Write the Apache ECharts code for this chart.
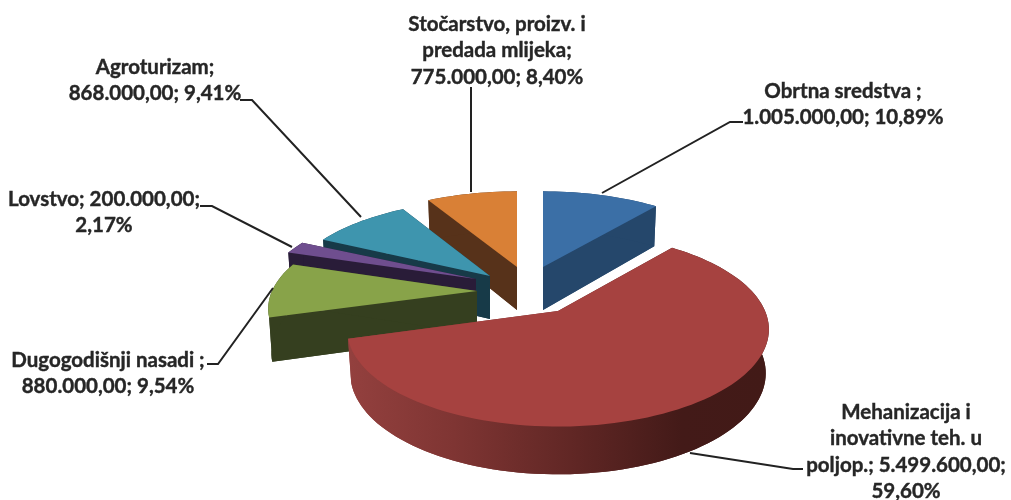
<!DOCTYPE html>
<html>
<head>
<meta charset="utf-8">
<title>Pie</title>
<style>
  html, body { margin: 0; padding: 0; background: #fff; }
  #chart { width: 1011px; height: 500px; }
</style>
<script src="https://cdn.jsdelivr.net/npm/echarts@6/dist/echarts.min.js"></script>
</head>
<body>
<div id="chart"></div>
<script>
// data
var names = ['Obrtna sredstva', 'Mehanizacija i\ninovativne teh. u\npoljop.', 'Dugogodišnji nasadi', 'Lovstvo', 'Agroturizam', 'Stočarstvo, proizv. i\npredada mlijeka'];
var values = [1005000, 5499600, 880000, 200000, 868000, 775000];
var percents = ['10,89%', '59,60%', '9,54%', '2,17%', '9,41%', '8,40%'];
var amounts = ['1.005.000,00', '5.499.600,00', '880.000,00', '200.000,00', '868.000,00', '775.000,00'];

// how each label is put together
var labelFormats = ['{n} ;\n{v}; {p}', '{n}; {v};\n{p}', '{n} ;\n{v}; {p}', '{n}; {v};\n{p}', '{n};\n{v}; {p}', '{n};\n{v}; {p}'];

// layout, per slice
var topColors = ['#3b6fa6', '#a64240', '#88a349', '#6f4e8f', '#3e95ae', '#d98036'];
var wallColors = ['#25476b', '#642826', '#353f1f', '#291c38', '#173a48', '#57321a'];
var apexes = [[543, 267], [558, 311], [477, 291], [476, 279], [490, 276], [517, 267]];
var scalesX = [1, 1.01, 1, 1.02, 0.98, 1];
var scalesY = [1, 1.04, 1, 1, 1, 1];
var drawOrder = [0, 5, 4, 3, 2, 1];
var labelPos = [[843, 78], [906, 399], [108, 347], [104, 186], [155, 54], [497, 11]];
var leaders = [
  [[602, 193], [730, 122], [743, 122]],
  [[690, 453], [793, 469], [803, 469]],
  [[273, 288], [218, 364], [207, 364]],
  [[292, 247], [212, 206], [200, 206]],
  [[361, 217], [252, 100], [240, 100]],
  [[471, 192], [471, 87]]
];

// fake 3d: perspective on a tilted disc
var radiusX = 205, radiusY = 90, persp = 0.19, thickness = 43;

var total = values.reduce(function(a, b) { return a + b; }, 0);
var starts = [];
values.reduce(function(sum, v, i) {
  starts[i] = sum / total * 360;
  return sum + v;
}, 0);

function project(i, deg) {
  var rad = deg * Math.PI / 180;
  var x = Math.sin(rad), y = Math.cos(rad);
  var s = 1 / (1 + persp * y);
  return {
    dx: radiusX * scalesX[i] * x * s,
    dy: -radiusY * scalesY[i] * y * s,
    depth: thickness * Math.sqrt(s)
  };
}
function topPoint(i, deg) {
  var p = project(i, deg);
  return [apexes[i][0] + p.dx, apexes[i][1] + p.dy];
}
function bottomPoint(i, deg) {
  var p = project(i, deg);
  return [apexes[i][0] + p.dx * 0.985, apexes[i][1] + p.dy + p.depth];
}

function renderSlice(params, api) {
  var i = params.dataIndex;
  var from = starts[i];
  var to = from + api.value(0) / total * 360;
  var topArc = [], bottomArc = [];
  for (var a = from; a < to; a += 2) {
    topArc.push(topPoint(i, a));
    bottomArc.push(bottomPoint(i, a));
  }
  topArc.push(topPoint(i, to));
  bottomArc.push(bottomPoint(i, to));

  var apex = apexes[i];
  var apexLow = [apex[0], apex[1] + thickness];
  var wallFill = wallColors[i];
  if (i === 1) {
    // red rim goes dark towards the right
    wallFill = {
      type: 'linear', x: 350, y: 0, x2: 765, y2: 0, global: true,
      colorStops: [
        { offset: 0, color: '#93403e' },
        { offset: 0.25, color: '#7f3533' },
        { offset: 0.55, color: '#5f2624' },
        { offset: 0.8, color: '#431a18' },
        { offset: 1, color: '#421a17' }
      ]
    };
  }
  var z = drawOrder[i] * 2;
  var children = [
    { type: 'polygon', z2: z, shape: { points: [apexLow].concat(bottomArc) }, style: { fill: wallFill } },
    { type: 'polygon', z2: z, shape: { points: [apex, topArc[0], bottomArc[0], apexLow] }, style: { fill: wallFill } },
    { type: 'polygon', z2: z, shape: { points: [apex, topArc[topArc.length - 1], bottomArc[bottomArc.length - 1], apexLow] }, style: { fill: wallFill } },
    { type: 'polygon', z2: z, shape: { points: topArc.concat(bottomArc.slice().reverse()) }, style: { fill: wallFill } },
    { type: 'polygon', z2: z + 1, shape: { points: [apex].concat(topArc) }, style: { fill: topColors[i] } },
    { type: 'polyline', z2: 40, shape: { points: leaders[i] }, style: { stroke: '#222', lineWidth: 2, fill: null } },
    {
      type: 'text',
      z2: 41,
      style: {
        text: labelFormats[i].replace('{n}', names[i]).replace('{v}', amounts[i]).replace('{p}', percents[i]),
        x: labelPos[i][0],
        y: labelPos[i][1],
        align: 'center',
        verticalAlign: 'top',
        fontFamily: 'Lato',
        fontWeight: 'bold',
        fontSize: 20.5,
        lineHeight: 26.4,
        fill: '#262626',
        stroke: '#262626',
        lineWidth: 0.4
      }
    }
  ];
  return { type: 'group', children: children };
}

var myChart = echarts.init(document.getElementById('chart'));
myChart.setOption({
  backgroundColor: '#fff',
  animation: false,
  series: [{
    type: 'custom',
    coordinateSystem: 'none',
    renderItem: renderSlice,
    data: values.map(function(v) { return [v]; })
  }]
});
</script>
</body>
</html>
